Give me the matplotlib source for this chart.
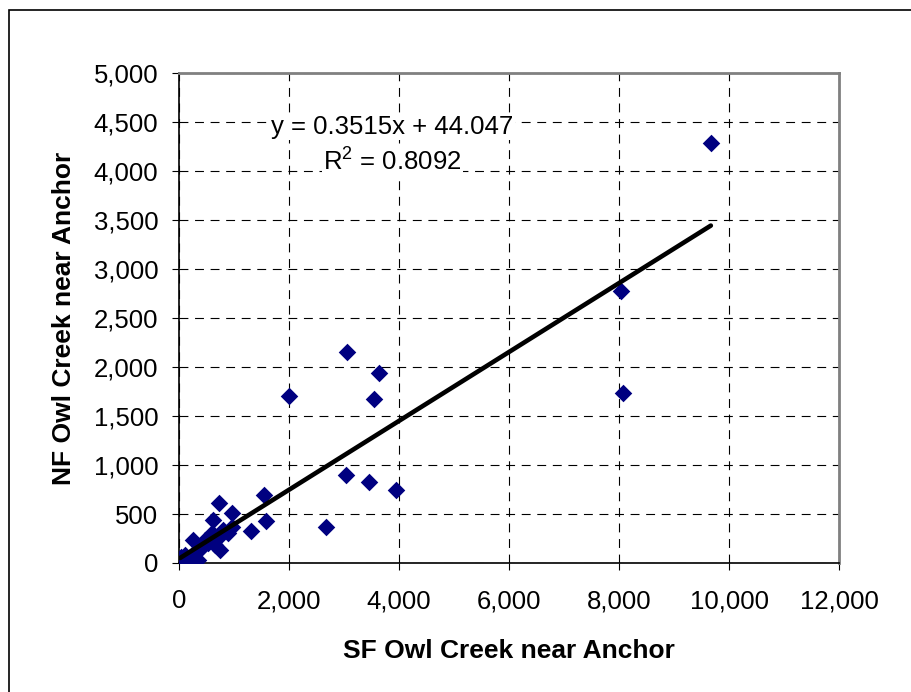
import matplotlib
matplotlib.use("Agg")
import matplotlib.pyplot as plt
import matplotlib.ticker as ticker
from matplotlib.patches import Rectangle
import numpy as np

# -------------------------------
# Data
# -------------------------------
sf_flow = [9670, 8030, 8080, 2000, 3540, 3050, 3640, 3040, 3460, 3945,
           2670, 1550, 1580, 1300, 730, 970, 610, 250, 745, 960,
           473, 600, 806, 412, 291, 109, 20, 200, 352, 533,
           655, 894, 109, 60, 150, 40, 300, 700, 380, 520]
nf_flow = [4290, 2780, 1730, 1700, 1675, 2150, 1940, 900, 825, 740,
           370, 695, 430, 330, 615, 515, 440, 235, 135, 370,
           235, 303, 337, 166, 99, 31, 20, 10, 31, 200,
           180, 303, 82, 5, 40, 60, 120, 260, 140, 250]

slope = 0.3515
intercept = 44.047
eq_text = "y = 0.3515x + 44.047"
r2_text = "R$^2$ = 0.8092"

x_ticks = [0, 2000, 4000, 6000, 8000, 10000, 12000]
y_ticks = [0, 500, 1000, 1500, 2000, 2500, 3000, 3500, 4000, 4500, 5000]

plt.rcParams["font.family"] = ["Liberation Sans", "DejaVu Sans"]
plt.rcParams["mathtext.fontset"] = "custom"
plt.rcParams["mathtext.rm"] = "Liberation Sans"

fig = plt.figure(figsize=(9.11, 6.92), dpi=100)
ax = fig.add_axes([179 / 911, 1 - 563 / 692, 660 / 911, 490 / 692])

# outer chart frame (right and bottom edges fall outside the image)
fig.patches.append(Rectangle((9 / 911, -0.05), 1.0, 1.05 - 10.5 / 692,
                             transform=fig.transFigure, fill=False,
                             edgecolor="black", linewidth=1.2))

ax.scatter(sf_flow, nf_flow, marker="D", s=80, color="#000080", zorder=3,
           linewidths=0)

# trendline over the data range
x_fit = np.array([min(sf_flow), max(sf_flow)])
ax.plot(x_fit, slope * x_fit + intercept, color="black", linewidth=3.3,
        solid_capstyle="round", zorder=4)

ax.text(3880, 4449, eq_text, ha="center", va="center", fontsize=18.5,
        bbox=dict(facecolor="white", edgecolor="none", pad=1), zorder=5)
ax.text(3880, 4107, r2_text, ha="center", va="center", fontsize=18.5,
        bbox=dict(facecolor="white", edgecolor="none", pad=1), zorder=5)

ax.set_xlim(0, 12000)
ax.set_ylim(0, 5000)
ax.set_xticks(x_ticks)
ax.set_yticks(y_ticks)
ax.xaxis.set_major_formatter(ticker.StrMethodFormatter("{x:,.0f}"))
ax.yaxis.set_major_formatter(ticker.StrMethodFormatter("{x:,.0f}"))
ax.tick_params(axis="x", labelsize=18.5, length=5, pad=14, direction="out")
ax.tick_params(axis="y", labelsize=18.5, length=5, pad=10, direction="out")

ax.grid(True, color="black", linestyle=(0, (8, 6)), linewidth=0.8)
ax.set_axisbelow(True)

for side in ["top", "right"]:
    ax.spines[side].set_color("#808080")
    ax.spines[side].set_linewidth(2)
for side in ["left", "bottom"]:
    ax.spines[side].set_color("black")
    ax.spines[side].set_linewidth(1.2)

ax.set_xlabel("SF Owl Creek near Anchor", fontsize=19, fontweight="bold")
ax.set_ylabel("NF Owl Creek near Anchor", fontsize=19, fontweight="bold")
ax.xaxis.set_label_coords(0.5, (563 - 651) / 490, transform=ax.transAxes)
ax.yaxis.set_label_coords((64 - 179) / 660, 0.5, transform=ax.transAxes)
ax.xaxis.label.set_va("center")
ax.yaxis.label.set_va("center")

fig.savefig("out.png", dpi=100)
